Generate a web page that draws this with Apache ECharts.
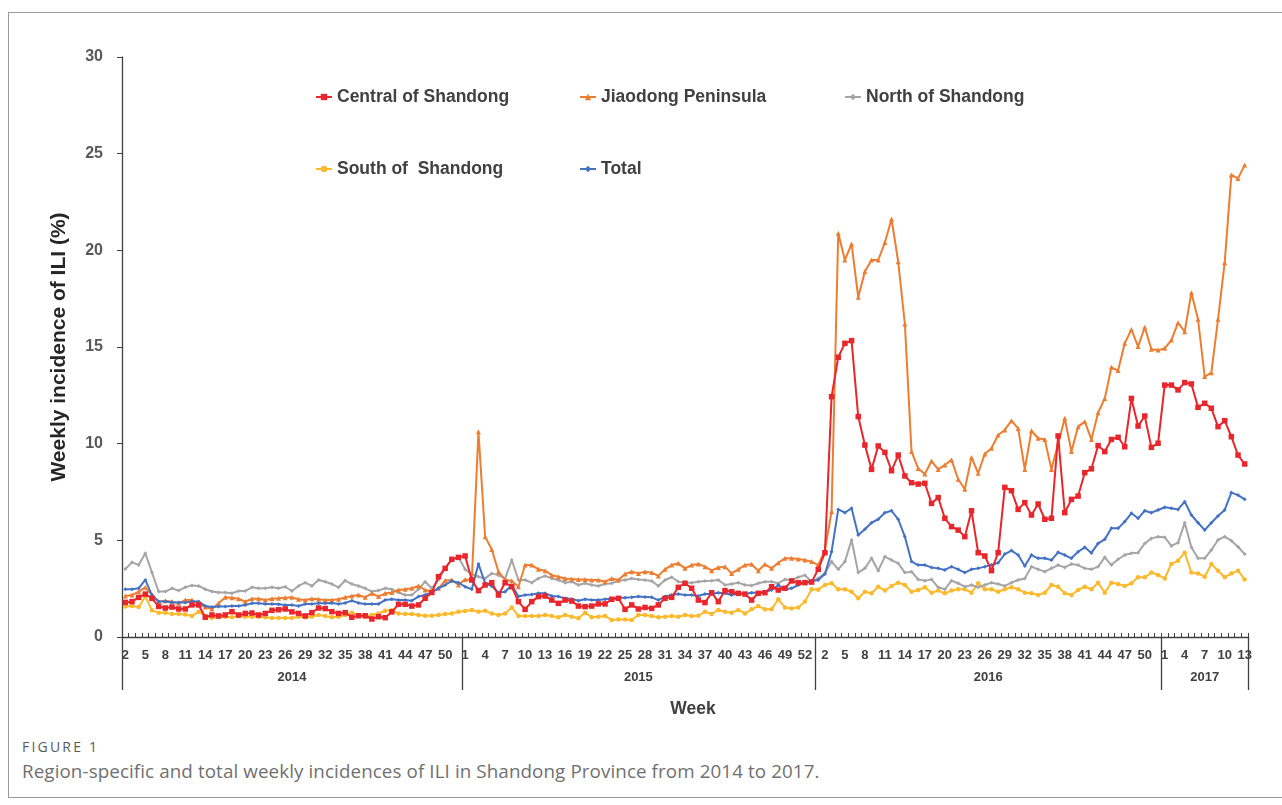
<!DOCTYPE html>
<html>
<head>
<meta charset="utf-8">
<script src="https://cdn.jsdelivr.net/npm/echarts@6/dist/echarts.min.js"></script>
<style>
  html, body { margin: 0; padding: 0; background: #ffffff; }
  #frame { position: absolute; left: 8px; top: 12px; width: 1290px; height: 786px; border: 1px solid #9a9a9a; box-sizing: border-box; }
  #chart { position: absolute; left: 0; top: 0; width: 1282px; height: 730px; }
  #figlabel { position: absolute; left: 22px; top: 737px; font-family: "Open Sans", "Noto Sans", sans-serif; font-size: 14px; color: #5a5a5a; letter-spacing: 2.2px; }
  #caption { position: absolute; left: 22px; top: 758px; font-family: "Open Sans", "Noto Sans", sans-serif; font-size: 18.8px; color: #707070; letter-spacing: 0.1px; white-space: nowrap; }
</style>
</head>
<body>
<div id="frame"></div>
<div id="chart"></div>
<div id="figlabel">FIGURE 1</div>
<div id="caption">Region-specific and total weekly incidences of ILI in Shandong Province from 2014 to 2017.</div>
<script>
// ---- data ----
const years = ['2014', '2015', '2016', '2017'];
const firstWeek = [2, 1, 1, 1];
const lastWeek = [52, 53, 52, 13];

const seriesNames = ['Central of Shandong', 'Jiaodong Peninsula', 'North of Shandong', 'South of  Shandong', 'Total'];

const central = [
1.79,1.83,2.05,2.22,2.0,1.58,1.5,1.55,1.45,1.45,1.66,1.66,1.02,1.14,1.09,1.14,1.31,1.14,1.22,1.24,1.14,1.22,1.38,1.41,1.45,1.3,
1.22,1.09,1.26,1.5,1.47,1.31,1.22,1.26,1.02,1.1,1.1,0.93,1.05,1.0,1.3,1.69,1.69,1.6,1.66,2.0,2.3,3.12,3.55,4.02,4.12,4.19,2.95,
2.4,2.69,2.81,2.17,2.81,2.6,1.83,1.43,1.83,2.09,2.12,1.91,1.74,1.91,1.86,1.6,1.57,1.6,1.71,1.71,1.95,2.0,1.43,1.66,1.45,
1.53,1.48,1.66,2.0,2.05,2.57,2.78,2.52,1.91,1.78,2.29,1.83,2.4,2.34,2.26,2.22,1.91,2.26,2.29,2.6,2.43,2.52,2.9,2.81,2.81,2.84,
3.5,4.36,12.43,14.47,15.19,15.33,11.4,9.93,8.67,9.88,9.55,8.6,9.41,8.33,7.98,7.91,7.95,6.91,7.21,6.14,
5.71,5.53,5.19,6.53,4.36,4.19,3.43,4.36,7.74,7.57,6.6,6.95,6.31,6.88,6.09,6.14,10.4,6.43,7.12,7.29,8.5,8.7,9.9,
9.59,10.22,10.33,9.84,12.34,10.91,11.43,9.81,10.02,13.03,13.03,12.78,13.16,13.09,11.88,12.09,11.83,10.88,11.19,10.36,9.41,8.95
];
const jiaodong = [
2.12,2.17,2.35,2.57,2.17,1.83,1.88,1.83,1.74,1.91,1.91,1.71,1.55,1.45,1.74,2.05,2.03,1.98,1.83,1.98,1.98,1.91,1.98,2.0,2.03,2.05,
1.95,1.91,1.98,1.95,1.91,1.91,1.95,2.05,2.12,2.17,2.05,2.26,2.09,2.26,2.3,2.43,2.47,2.52,2.64,2.43,2.35,2.52,2.92,2.95,2.69,2.98,2.95,
10.62,5.19,4.53,3.38,2.95,2.91,2.6,3.72,3.72,3.5,3.43,3.2,3.12,3.03,3.0,2.98,2.98,2.95,2.95,2.86,3.03,2.95,3.26,3.38,3.29,
3.38,3.33,3.16,3.5,3.72,3.81,3.55,3.72,3.78,3.64,3.43,3.6,3.64,3.29,3.5,3.72,3.76,3.43,3.76,3.55,3.84,4.07,4.07,4.03,3.98,3.9,
3.72,4.5,6.48,20.88,19.5,20.33,17.57,18.9,19.5,19.5,20.4,21.62,19.41,16.19,9.59,8.72,8.43,9.1,8.67,8.9,
9.16,8.16,7.64,9.29,8.47,9.47,9.76,10.45,10.71,11.19,10.79,8.67,10.67,10.28,10.22,8.67,10.0,11.31,9.59,10.88,11.14,10.22,
11.6,12.34,13.95,13.78,15.19,15.91,15.02,16.02,14.88,14.84,14.93,15.36,16.26,15.79,17.81,16.43,13.47,13.67,16.43,19.36,23.9,23.72,24.41
];
const north = [
3.52,3.86,3.73,4.33,3.33,2.35,2.35,2.52,2.4,2.57,2.67,2.64,2.47,2.35,2.3,2.3,2.26,2.38,2.38,2.57,2.52,2.52,2.57,2.52,2.6,2.38,
2.64,2.81,2.64,2.95,2.86,2.74,2.57,2.92,2.74,2.64,2.52,2.35,2.4,2.52,2.47,2.3,2.17,2.17,2.47,2.86,2.52,2.95,3.55,4.02,4.12,3.5,3.26,
3.12,3.03,3.29,3.2,3.03,3.98,2.95,2.95,2.81,3.03,3.16,3.03,2.95,2.81,2.86,2.69,2.78,2.69,2.64,2.74,2.78,2.91,2.95,3.03,2.98,
2.95,2.9,2.64,2.95,3.09,2.86,2.81,2.81,2.86,2.9,2.91,2.95,2.69,2.74,2.81,2.69,2.66,2.78,2.86,2.86,2.78,2.98,2.95,3.09,3.2,2.86,
3.03,3.29,3.9,3.5,3.9,5.02,3.33,3.55,4.07,3.43,4.16,3.98,3.81,3.33,3.38,2.98,2.91,2.98,2.57,2.47,
2.91,2.78,2.6,2.69,2.57,2.69,2.81,2.74,2.64,2.81,2.95,3.03,3.64,3.5,3.38,3.55,3.72,3.6,3.78,3.72,3.55,3.5,
3.64,4.12,3.72,4.02,4.24,4.33,4.36,4.84,5.1,5.19,5.16,4.71,4.88,5.91,4.64,4.07,4.07,4.5,5.02,5.19,4.98,4.67,4.29
];
const south = [
1.58,1.6,1.55,2.09,1.38,1.26,1.26,1.19,1.19,1.17,1.09,1.31,1.09,0.98,1.02,1.05,1.02,1.09,1.05,1.05,1.05,1.02,0.98,0.98,0.98,0.98,
1.05,1.02,1.05,1.14,1.09,1.02,1.05,1.14,1.26,1.14,1.05,1.14,1.22,1.36,1.38,1.22,1.19,1.19,1.14,1.1,1.1,1.14,1.19,1.22,1.31,1.35,1.4,
1.31,1.36,1.22,1.14,1.22,1.53,1.09,1.09,1.09,1.09,1.14,1.09,1.02,1.14,1.05,0.97,1.26,1.02,1.05,1.09,0.88,0.91,0.91,0.88,1.14,
1.14,1.09,1.02,1.05,1.09,1.05,1.14,1.09,1.1,1.31,1.19,1.4,1.31,1.26,1.4,1.22,1.43,1.6,1.43,1.43,1.95,1.53,1.48,1.52,1.83,2.47,
2.45,2.69,2.78,2.47,2.47,2.34,2.0,2.34,2.26,2.6,2.4,2.64,2.81,2.69,2.34,2.43,2.57,2.29,2.4,2.26,
2.4,2.47,2.47,2.29,2.78,2.47,2.47,2.34,2.47,2.57,2.47,2.29,2.26,2.17,2.29,2.69,2.6,2.26,2.17,2.43,2.6,2.47,
2.81,2.29,2.81,2.74,2.64,2.78,3.09,3.09,3.33,3.21,3.03,3.78,3.95,4.36,3.33,3.29,3.12,3.78,3.43,3.09,3.29,3.43,2.98
];
const total = [
2.47,2.47,2.52,2.95,2.17,1.83,1.83,1.8,1.78,1.78,1.83,1.83,1.6,1.55,1.58,1.58,1.6,1.6,1.66,1.74,1.74,1.71,1.71,1.69,1.66,1.66,
1.6,1.71,1.71,1.74,1.74,1.76,1.71,1.76,1.88,1.76,1.71,1.71,1.71,1.91,1.95,1.91,1.91,1.88,2.09,2.17,2.3,2.52,2.69,2.9,2.81,2.6,2.47,
3.78,2.78,2.64,2.29,2.34,2.69,2.09,2.17,2.2,2.26,2.26,2.12,2.09,2.0,1.97,1.88,1.95,1.91,1.91,1.95,1.98,2.03,2.03,2.05,2.09,
2.07,2.05,1.91,2.09,2.17,2.22,2.17,2.17,2.12,2.22,2.22,2.29,2.26,2.17,2.26,2.22,2.29,2.29,2.34,2.43,2.69,2.47,2.52,2.69,2.83,2.9,
2.95,3.26,4.41,6.6,6.43,6.66,5.28,5.57,5.91,6.09,6.43,6.53,6.09,5.19,3.9,3.72,3.72,3.6,3.55,3.47,
3.64,3.5,3.33,3.5,3.55,3.64,3.72,3.84,4.29,4.47,4.24,3.67,4.24,4.07,4.07,3.98,4.38,4.24,4.07,4.41,4.64,4.35,
4.84,5.05,5.62,5.62,5.97,6.4,6.14,6.53,6.43,6.57,6.71,6.66,6.6,7.0,6.31,5.91,5.53,5.91,6.26,6.57,7.47,7.34,7.12
];

const yTicks = [0, 5, 10, 15, 20, 25, 30];

// ---- derived axis helpers ----
const weekLabels = [];
const yearBounds = [0];
const yearCenters = [];
years.forEach((y, k) => {
  const start = weekLabels.length;
  for (let w = firstWeek[k]; w <= lastWeek[k]; w++) weekLabels.push(String(w));
  yearBounds.push(weekLabels.length);
  yearCenters.push((start + weekLabels.length) / 2);
});
const nWeeks = weekLabels.length;

const colors = ['#E8262B', '#ED7D31', '#A5A5A5', '#FDB92C', '#4472C4'];
const symbols = ['rect', 'triangle', 'diamond', 'circle', 'diamond'];
const sizes = [5.5, 5, 4, 4.5, 4];
const dataSets = [central, jiaodong, north, south, total];

const chart = echarts.init(document.getElementById('chart'), null, { renderer: 'canvas' });
const font = 'Liberation Sans, Arial, sans-serif';

// legend layout: 3 columns, 2 rows
const legendLeft = [310, 574, 839, 310, 574];
const legendTop = [83, 83, 83, 155, 155];
const legends = seriesNames.map((name, k) => ({
  left: legendLeft[k], top: legendTop[k], itemWidth: 16, itemHeight: 8,
  data: [name],
  textStyle: { fontSize: 17.5, fontWeight: 'bold', color: '#404040', fontFamily: font }
}));

const option = {
  animation: false,
  backgroundColor: 'transparent',
  grid: { left: 122, right: 34, top: 57, bottom: 93, containLabel: false },
  legend: legends,
  xAxis: [
    {
      type: 'category', data: weekLabels, boundaryGap: true,
      axisLine: { lineStyle: { color: '#404040', width: 1.3 } },
      axisTick: { show: true, inside: true, length: 4, interval: 0, lineStyle: { color: '#404040' } },
      axisLabel: { interval: 2, margin: 12, fontSize: 13, fontWeight: 'bold', color: '#404040', fontFamily: font },
      splitLine: { show: false }
    },
    {
      type: 'value', min: 0, max: nWeeks, position: 'bottom',
      axisLine: { show: false },
      splitLine: { show: false },
      axisTick: { show: true, customValues: yearBounds, length: 53, lineStyle: { color: '#404040', width: 1.3 } },
      axisLabel: {
        customValues: yearCenters, margin: 34, fontSize: 13, fontWeight: 'bold', color: '#404040', fontFamily: font,
        formatter: (v) => years[yearCenters.indexOf(v)] || ''
      },
      name: 'Week', nameLocation: 'middle', nameGap: 63,
      nameTextStyle: { fontSize: 17.5, fontWeight: 'bold', color: '#404040', fontFamily: font, padding: [0, 0, 0, 16] }
    }
  ],
  yAxis: {
    type: 'value', min: yTicks[0], max: yTicks[yTicks.length - 1], interval: 5,
    axisLine: { show: true, lineStyle: { color: '#404040', width: 1.3 } },
    axisTick: { show: true, length: 5, lineStyle: { color: '#404040' } },
    axisLabel: { margin: 19, fontSize: 16, fontWeight: 'bold', color: '#595959', fontFamily: font },
    splitLine: { show: false },
    name: 'Weekly incidence of ILI (%)', nameLocation: 'middle', nameRotate: 90, nameGap: 52,
    nameTextStyle: { fontSize: 21, fontWeight: 'bold', color: '#262626', fontFamily: font }
  },
  series: seriesNames.map((name, k) => ({
    name: name, type: 'line', xAxisIndex: 0, data: dataSets[k],
    symbol: symbols[k], symbolSize: sizes[k], showSymbol: true, showAllSymbol: true,
    itemStyle: { color: colors[k] },
    lineStyle: { color: colors[k], width: 2 },
    z: [5, 3, 2, 1, 4][k]
  }))
};
chart.setOption(option);
</script>
</body>
</html>
